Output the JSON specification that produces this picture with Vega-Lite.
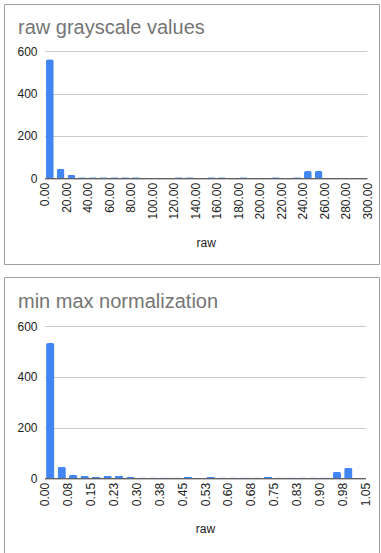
{
  "$schema": "https://vega.github.io/schema/vega-lite/v6.json",
  "padding": {"left": 3, "top": 3, "right": 3, "bottom": 2},
  "background": "white",
  "spacing": 11,
  "config": {
    "view": {"stroke": "#9e9e9e", "strokeWidth": 1, "fill": "white"},
    "axis": {"labelFont": "Liberation Sans", "titleFont": "Liberation Sans", "labelFontSize": 12, "titleFontSize": 12, "labelColor": "#222222", "titleColor": "#222222", "titleFontWeight": "normal", "ticks": false, "tickSize": 0},
    "title": {"font": "Liberation Sans", "fontSize": 20, "fontWeight": "normal", "color": "#757575", "anchor": "start", "frame": "group"}
  },
  "datasets": {
    "raw": [
      {"value": 5, "count": 562}, {"value": 15, "count": 45}, {"value": 25, "count": 17},
      {"value": 35, "count": 5}, {"value": 45, "count": 5}, {"value": 55, "count": 5},
      {"value": 65, "count": 5}, {"value": 75, "count": 5}, {"value": 85, "count": 5},
      {"value": 125, "count": 5}, {"value": 135, "count": 5}, {"value": 155, "count": 5},
      {"value": 165, "count": 5}, {"value": 185, "count": 5}, {"value": 215, "count": 5},
      {"value": 235, "count": 5}, {"value": 245, "count": 34}, {"value": 255, "count": 34}
    ],
    "norm": [
      {"value": 0.01875, "count": 533}, {"value": 0.05625, "count": 45}, {"value": 0.09375, "count": 13},
      {"value": 0.13125, "count": 9}, {"value": 0.16875, "count": 5}, {"value": 0.20625, "count": 9},
      {"value": 0.24375, "count": 9}, {"value": 0.28125, "count": 5}, {"value": 0.31875, "count": 3},
      {"value": 0.35625, "count": 3}, {"value": 0.39375, "count": 3}, {"value": 0.43125, "count": 3},
      {"value": 0.46875, "count": 5}, {"value": 0.54375, "count": 5}, {"value": 0.58125, "count": 3},
      {"value": 0.61875, "count": 3}, {"value": 0.65625, "count": 3}, {"value": 0.69375, "count": 3},
      {"value": 0.73125, "count": 5}, {"value": 0.76875, "count": 3}, {"value": 0.80625, "count": 3},
      {"value": 0.84375, "count": 3}, {"value": 0.88125, "count": 3}, {"value": 0.91875, "count": 3},
      {"value": 0.95625, "count": 25}, {"value": 0.99375, "count": 41}
    ]
  },
  "vconcat": [
    {
      "width": 375,
      "height": 260,
      "title": {"text": "raw grayscale values", "offset": -34, "dx": 14},
      "data": {"name": "raw"},
      "mark": {"type": "bar", "width": 7.7, "color": "#4285f4", "cornerRadiusTopLeft": 2, "cornerRadiusTopRight": 2},
      "encoding": {
        "x": {
          "field": "value", "type": "quantitative",
          "scale": {"domain": [0, 300], "range": [40.5, 363], "nice": false, "zero": false, "padding": 0},
          "axis": {"title": "raw", "values": [0, 20, 40, 60, 80, 100, 120, 140, 160, 180, 200, 220, 240, 260, 280, 300], "format": ".2f", "labelAngle": 270, "labelAlign": "right", "labelBaseline": "middle", "labelPadding": 4, "offset": -85.7, "grid": false, "domainColor": "#333333", "titlePadding": 18, "labelOverlap": false, "labelFlush": false}
        },
        "y": {
          "field": "count", "type": "quantitative",
          "scale": {"domain": [0, 600], "range": [174.3, 47.3], "nice": false, "padding": 0},
          "axis": {"title": null, "values": [0, 200, 400, 600], "offset": -40.5, "domain": false, "gridColor": "#cccccc", "labelPadding": 7.5}
        }
      }
    },
    {
      "width": 375,
      "height": 276,
      "title": {"text": "min max normalization", "offset": -35, "dx": 14},
      "data": {"name": "norm"},
      "mark": {"type": "bar", "width": 8.3, "color": "#4285f4", "cornerRadiusTopLeft": 2, "cornerRadiusTopRight": 2},
      "encoding": {
        "x": {
          "field": "value", "type": "quantitative",
          "scale": {"domain": [0, 1.05], "range": [40.5, 361.5], "nice": false, "zero": false, "padding": 0},
          "axis": {"title": "raw", "values": [0, 0.075, 0.15, 0.225, 0.3, 0.375, 0.45, 0.525, 0.6, 0.675, 0.75, 0.825, 0.9, 0.975, 1.05], "labelExpr": "format(datum.value + 1e-9, '.2f')", "labelAngle": 270, "labelAlign": "right", "labelBaseline": "middle", "labelPadding": 4, "offset": -74.7, "grid": false, "domainColor": "#333333", "titlePadding": 18, "labelOverlap": false, "labelFlush": false}
        },
        "y": {
          "field": "count", "type": "quantitative",
          "scale": {"domain": [0, 600], "range": [201.3, 49], "nice": false, "padding": 0},
          "axis": {"title": null, "values": [0, 200, 400, 600], "offset": -40.5, "domain": false, "gridColor": "#cccccc", "labelPadding": 7.5}
        }
      }
    }
  ]
}
